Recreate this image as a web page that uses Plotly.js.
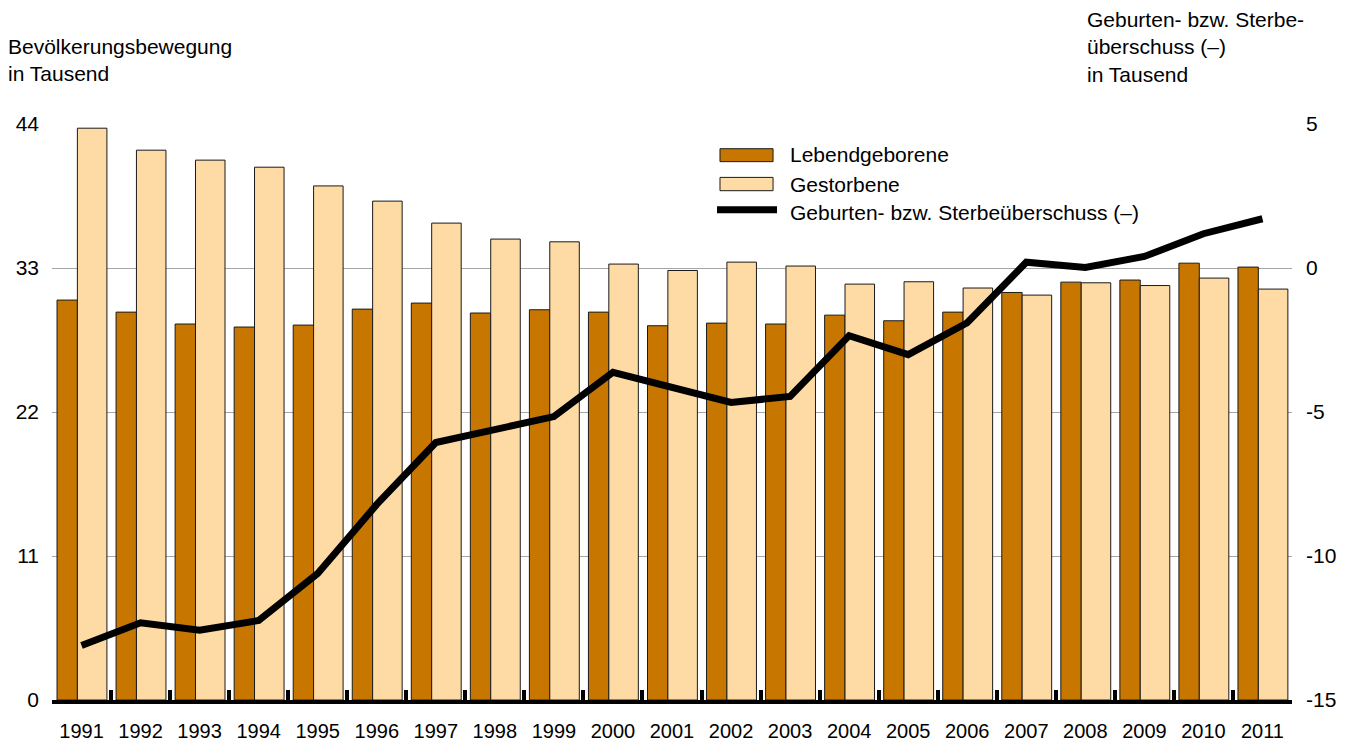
<!DOCTYPE html>
<html>
<head>
<meta charset="utf-8">
<script src="https://cdn.plot.ly/plotly-3.0.1.min.js"></script>
<style>
html,body{margin:0;padding:0;background:#fff;}
#chart{width:1355px;height:742px;}
</style>
</head>
<body>
<div id="chart"></div>
<script>
// ---- data ----
const years = ["1991","1992","1993","1994","1995","1996","1997","1998","1999","2000","2001","2002","2003","2004","2005","2006","2007","2008","2009","2010","2011"];
const lebendgeborene = [30.55,29.63,28.72,28.49,28.64,29.86,30.32,29.56,29.81,29.63,28.59,28.79,28.72,29.40,28.97,29.63,31.13,31.92,32.08,33.37,33.07];
const gestorbene = [43.68,42.00,41.24,40.70,39.27,38.11,36.43,35.21,35.00,33.30,32.81,33.45,33.15,31.77,31.95,31.47,30.93,31.87,31.66,32.23,31.39];
const ueberschuss = [-13.11,-12.32,-12.58,-12.24,-10.61,-8.21,-6.06,-5.58,-5.16,-3.62,-4.15,-4.67,-4.46,-2.35,-3.01,-1.90,0.20,0.02,0.40,1.19,1.71];
const leftTicks = [0,11,22,33,44];
const rightTicks = [-15,-10,-5,0,5];
const rightTickText = ["-15","-10","-5","0","5"];
const seriesNames = ["Lebendgeborene","Gestorbene","Geburten- bzw. Sterbeüberschuss (–)"];
const leftTitle = "Bevölkerungsbewegung<br>in Tausend";
const rightTitle = "Geburten- bzw. Sterbe-<br>überschuss (–)<br>in Tausend";

const DARK = "#C77700";
const LIGHT = "#FEDBA4";
const FONT = "Liberation Sans, Arial, sans-serif";

const traces = [
  {type:"bar", x:years, y:lebendgeborene, name:seriesNames[0], yaxis:"y",
   width:0.345, offset:-0.415,
   marker:{color:DARK, line:{color:"#1a1a1a", width:1}}, hoverinfo:"x+y"},
  {type:"bar", x:years, y:gestorbene, name:seriesNames[1], yaxis:"y",
   width:0.5, offset:-0.07,
   marker:{color:LIGHT, line:{color:"#1a1a1a", width:1}}, hoverinfo:"x+y"},
  {type:"scatter", mode:"lines", x:years, y:ueberschuss, name:seriesNames[2], yaxis:"y2",
   line:{color:"#000", width:7}, hoverinfo:"x+y"}
];

const layout = {
  width:1355, height:742,
  margin:{l:52, r:63, t:124, b:42, pad:0},
  paper_bgcolor:"#fff", plot_bgcolor:"#fff",
  font:{family:FONT, size:21, color:"#000"},
  showlegend:false,
  barmode:"overlay",
  xaxis:{type:"category", tickson:"boundaries", ticks:"inside", ticklen:10, tickwidth:4,
         tickcolor:"#000", showline:true, linewidth:4, linecolor:"#000",
         showgrid:false, zeroline:false, tickfont:{size:20}, ticklabelstandoff:10,
         range:[-0.5,20.5], fixedrange:true},
  yaxis:{range:[0,44], tickvals:leftTicks, showgrid:true, gridcolor:"#a6a6a6", gridwidth:1,
         zeroline:false, ticks:"", showline:false, ticklabelstandoff:12, fixedrange:true},
  yaxis2:{range:[-15,5], tickvals:rightTicks, ticktext:rightTickText, overlaying:"y", side:"right", showgrid:false,
          zeroline:false, ticks:"", showline:false, ticklabelstandoff:13, fixedrange:true},
  annotations:[
    {text:leftTitle, xref:"paper", yref:"paper", x:-0.0375, y:1.111, xanchor:"left", yanchor:"middle",
     align:"left", showarrow:false, font:{size:21}},
    {text:rightTitle, xref:"paper", yref:"paper", x:0.8327, y:1.133, xanchor:"left", yanchor:"middle",
     align:"left", showarrow:false, font:{size:21}},
    {text:seriesNames[0], xref:"paper", yref:"paper", x:0.5937, y:0.9462, xanchor:"left", yanchor:"middle", showarrow:false},
    {text:seriesNames[1], xref:"paper", yref:"paper", x:0.5937, y:0.8951, xanchor:"left", yanchor:"middle", showarrow:false},
    {text:seriesNames[2], xref:"paper", yref:"paper", x:0.5937, y:0.8466, xanchor:"left", yanchor:"middle", showarrow:false}
  ],
  shapes:[
    {type:"rect", xref:"paper", yref:"paper", x0:0.5387, x1:0.5815, y0:0.9346, y1:0.9571,
     fillcolor:DARK, line:{color:"#1a1a1a", width:1}},
    {type:"rect", xref:"paper", yref:"paper", x0:0.5387, x1:0.5815, y0:0.8842, y1:0.9073,
     fillcolor:LIGHT, line:{color:"#1a1a1a", width:1}},
    {type:"line", xref:"paper", yref:"paper", x0:0.5363, x1:0.5847, y0:0.8513, y1:0.8513,
     line:{color:"#000", width:7}}
  ]
};

Plotly.newPlot("chart", traces, layout, {displayModeBar:false, staticPlot:true});
</script>
</body>
</html>
